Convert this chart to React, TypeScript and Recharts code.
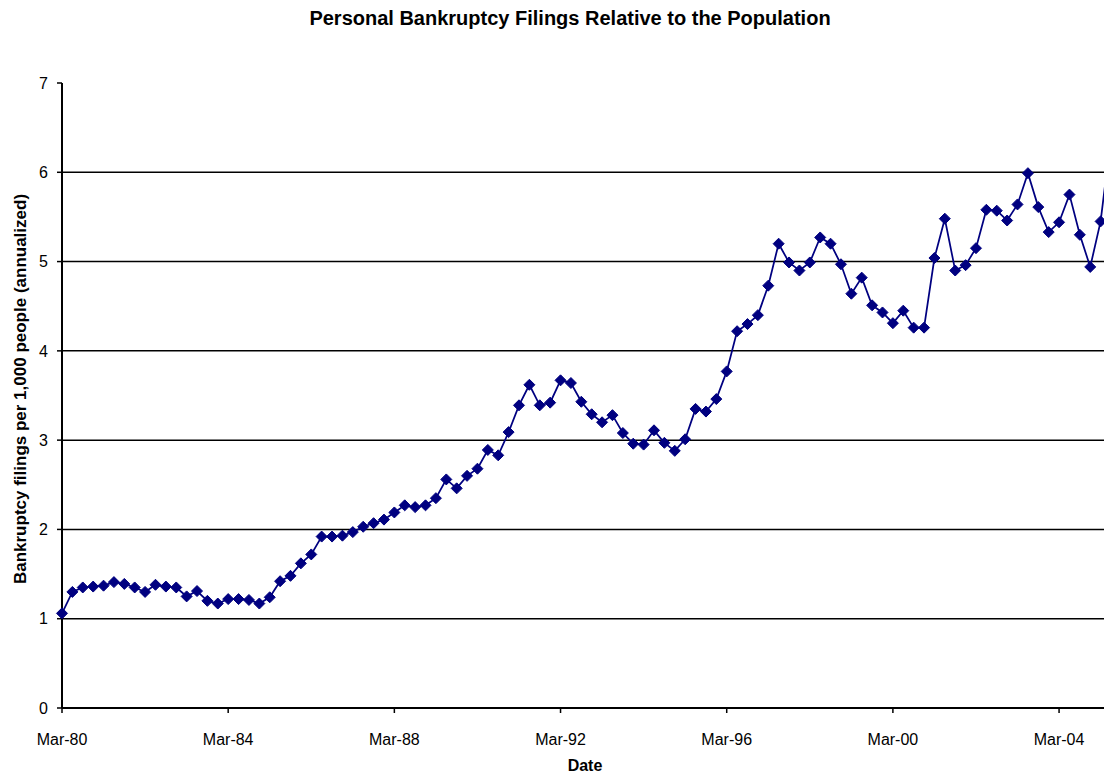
import React from 'react';
import { LineChart, Line, XAxis, YAxis, CartesianGrid } from 'recharts';

// quarterly series, Mar-80 onward (last point runs off the right edge like the source)
const YEARS = [80, 81, 82, 83, 84, 85, 86, 87, 88, 89, 90, 91, 92, 93, 94, 95, 96, 97, 98, 99, 0, 1, 2, 3, 4, 5];
const MONTHS = ['Mar', 'Jun', 'Sep', 'Dec'];

const FILINGS = [
    1.06, 1.30, 1.35, 1.36, 1.37, 1.41, 1.39, 1.35, 1.30, 1.38, 1.36, 1.35, 1.25, 1.31, 1.20, 1.17,
    1.22, 1.22, 1.21, 1.17, 1.24, 1.42, 1.48, 1.62, 1.72, 1.92, 1.92, 1.93, 1.97, 2.03, 2.07, 2.11,
    2.19, 2.27, 2.25, 2.27, 2.35, 2.56, 2.46, 2.60, 2.68, 2.89, 2.83, 3.09, 3.39, 3.62, 3.39, 3.42,
    3.67, 3.64, 3.43, 3.29, 3.20, 3.28, 3.08, 2.96, 2.95, 3.11, 2.97, 2.88, 3.01, 3.35, 3.32, 3.46,
    3.77, 4.22, 4.30, 4.40, 4.73, 5.20, 4.99, 4.90, 4.99, 5.27, 5.20, 4.97, 4.64, 4.82, 4.51, 4.43,
    4.31, 4.45, 4.26, 4.26, 5.04, 5.48, 4.90, 4.96, 5.15, 5.58, 5.57, 5.46, 5.64, 5.99, 5.61, 5.33,
    5.44, 5.75, 5.30, 4.94, 5.45, 6.40,
];

const X_TICKS = ['Mar-80', 'Mar-84', 'Mar-88', 'Mar-92', 'Mar-96', 'Mar-00', 'Mar-04'];
const Y_TICKS = [0, 1, 2, 3, 4, 5, 6, 7];

const FONT = '"Liberation Sans", Arial, sans-serif';
const NAVY = '#000080';

const labels: string[] = [];
YEARS.forEach((y) => MONTHS.forEach((m) => labels.push(`${m}-${String(y).padStart(2, '0')}`)));

const data = FILINGS.map((v, i) => ({ date: labels[i], value: v }));

const Diamond = (props: { cx?: number; cy?: number; index?: number }) => {
    const { cx, cy, index } = props;
    if (cx == null || cy == null) return null;
    const r = 5.5;
    return (
        <polygon
            key={index}
            points={`${cx},${cy - r} ${cx + r},${cy} ${cx},${cy + r} ${cx - r},${cy}`}
            fill={NAVY}
            stroke={NAVY}
            strokeWidth={1}
        />
    );
};

export default function App() {
    return (
        <div
            style={{
                position: 'absolute',
                left: 0,
                top: 0,
                width: 1104,
                height: 773,
                overflow: 'hidden',
                background: '#fff',
                fontFamily: FONT,
            }}
        >
            <LineChart
                width={1121}
                height={773}
                data={data}
                margin={{ top: 83, right: 10, left: 0, bottom: 35 }}
            >
                <CartesianGrid vertical={false} stroke="#000" strokeWidth={1.5} horizontalValues={[1, 2, 3, 4, 5, 6]} />
                <XAxis
                    dataKey="date"
                    ticks={X_TICKS}
                    interval={0}
                    height={30}
                    tickSize={5}
                    tickMargin={21}
                    axisLine={{ stroke: '#000', strokeWidth: 2 }}
                    tickLine={{ stroke: '#000', strokeWidth: 1.5 }}
                    tick={{ fill: '#000', fontSize: 16, fontFamily: FONT }}
                />
                <YAxis
                    domain={[0, 7]}
                    ticks={Y_TICKS}
                    width={62}
                    tickSize={5}
                    tickMargin={9}
                    axisLine={{ stroke: '#000', strokeWidth: 2 }}
                    tickLine={{ stroke: '#000', strokeWidth: 1.5 }}
                    tick={{ fill: '#000', fontSize: 16, fontFamily: FONT }}
                />
                <Line
                    type="linear"
                    dataKey="value"
                    stroke={NAVY}
                    strokeWidth={1.75}
                    dot={<Diamond />}
                    activeDot={false}
                    isAnimationActive={false}
                />
            </LineChart>
            <svg
                width={1104}
                height={773}
                style={{ position: 'absolute', left: 0, top: 0, pointerEvents: 'none' }}
            >
                <text x={570} y={25} textAnchor="middle" fontWeight="bold" fontSize={20} fontFamily={FONT} fill="#000">
                    Personal Bankruptcy Filings Relative to the Population
                </text>
                <text x={585} y={771} textAnchor="middle" fontWeight="bold" fontSize={16} fontFamily={FONT} fill="#000">
                    Date
                </text>
                <text
                    transform="translate(26, 389) rotate(-90)"
                    textAnchor="middle"
                    fontWeight="bold"
                    fontSize={17}
                    fontFamily={FONT}
                    fill="#000"
                >
                    Bankruptcy filings per 1,000 people (annualized)
                </text>
            </svg>
        </div>
    );
}
